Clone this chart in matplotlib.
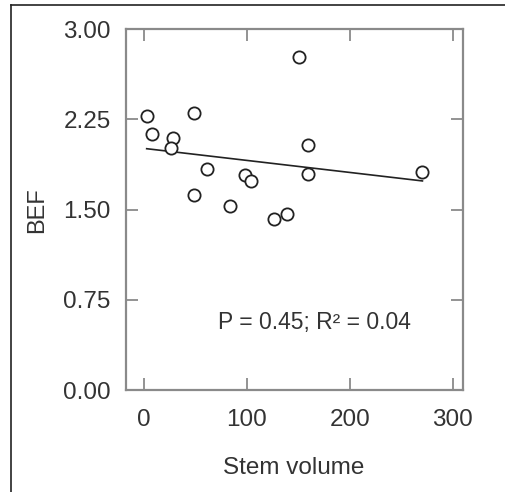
import numpy as np
import matplotlib.pyplot as plt
from matplotlib.lines import Line2D

plt.rcParams["font.family"] = ["Liberation Sans", "DejaVu Sans"]

# Stem volume vs BEF
stem_volume = [2.6, 7.4, 28.5, 25.9, 48.5, 60.9, 48.9, 83.5, 98.0, 103.9,
               126.2, 139.1, 150.8, 159.5, 159.5, 270.6]
bef = [2.28, 2.13, 2.10, 2.01, 2.30, 1.84, 1.62, 1.53, 1.79, 1.74,
       1.42, 1.46, 2.77, 2.04, 1.80, 1.81]
x_ticks = [0, 100, 200, 300]
y_ticks = [0.00, 0.75, 1.50, 2.25, 3.00]
stats_label = "P = 0.45; R² = 0.04"

text_col = "#333333"
axis_col = "#8a8a8a"

fig = plt.figure(figsize=(5.05, 4.92), dpi=100)
ax = fig.add_axes([0.2495, 0.2073, 0.6673, 0.7331])

ax.plot(stem_volume, bef, linestyle="none", marker="o", markersize=8.8,
        markerfacecolor="white", markeredgecolor="#222222", markeredgewidth=1.3,
        zorder=3)

# least squares line over the data range
slope, intercept = np.polyfit(stem_volume, bef, 1)
xs = np.array([min(stem_volume), max(stem_volume)])
ax.plot(xs, intercept + slope * xs, color="#222222", linewidth=1.2, zorder=2)

ax.set_xlim(-17.5, 310)
ax.set_ylim(0, 3.0)
ax.set_xticks(x_ticks)
ax.set_yticks(y_ticks)
ax.set_yticklabels([f"{v:.2f}" for v in y_ticks])
ax.tick_params(direction="in", length=8.5, width=1.3, color=axis_col,
               labelsize=17.5, labelcolor=text_col, top=True, right=True)
ax.tick_params(axis="x", pad=14)
ax.tick_params(axis="y", pad=11)
for s in ax.spines.values():
    s.set_color(axis_col)
    s.set_linewidth(1.6)

ax.text(0.558, 0.186, stats_label, transform=ax.transAxes, ha="center",
        va="center", fontsize=16.5, color=text_col)

fig.text(293.5 / 505, 1 - 468 / 492, "Stem volume", ha="center", va="center",
         fontsize=17.5, color=text_col)
fig.text(37 / 505, 1 - 210 / 492, "BEF", ha="center", va="center",
         rotation=90, fontsize=17, color=text_col)

# outer frame (only left and top edges are visible)
fig.add_artist(Line2D([11 / 505, 11 / 505], [0, 1 - 5 / 492],
                      transform=fig.transFigure, color="#222222", linewidth=1.2))
fig.add_artist(Line2D([11 / 505, 1], [1 - 5 / 492, 1 - 5 / 492],
                      transform=fig.transFigure, color="#222222", linewidth=1.2))

fig.savefig("out.png", dpi=100, facecolor="white")
